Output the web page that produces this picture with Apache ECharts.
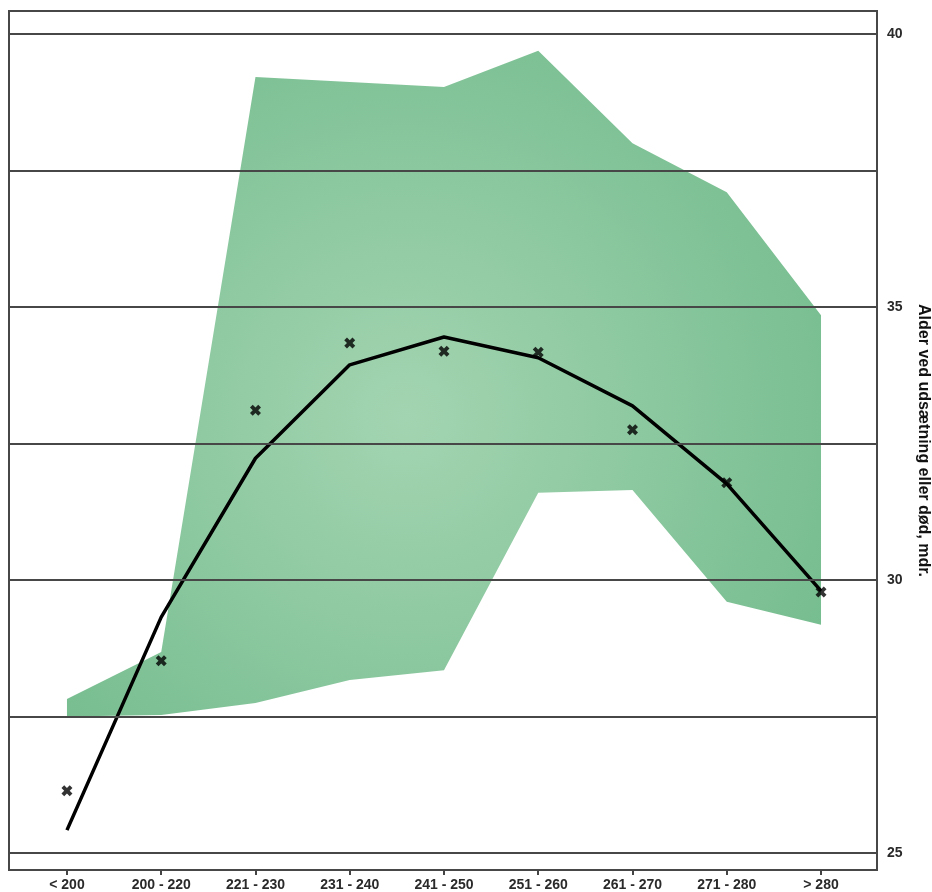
<!DOCTYPE html>
<html>
<head>
<meta charset="utf-8">
<script src="https://cdn.jsdelivr.net/npm/echarts@6/dist/echarts.min.js"></script>
<style>
html,body{margin:0;padding:0;background:#fff;}
#chart{width:932px;height:892px;}
</style>
</head>
<body>
<div id="chart"></div>
<script>
const categories = ['< 200','200 - 220','221 - 230','231 - 240','241 - 250','251 - 260','261 - 270','271 - 280','> 280'];
const upper    = [27.82, 28.68, 39.21, 39.12, 39.03, 39.69, 38.00, 37.10, 34.85];
const lower    = [27.50, 27.53, 27.75, 28.17, 28.35, 31.60, 31.65, 29.60, 29.18];
const fitted   = [25.42, 29.32, 32.23, 33.94, 34.45, 34.07, 33.19, 31.76, 29.80];
const observed = [26.14, 28.52, 33.11, 34.34, 34.19, 34.17, 32.75, 31.78, 29.78];
const gridValues = [25, 27.5, 30, 32.5, 35, 37.5, 40];
const yLabelValues = [25, 30, 35, 40];
const yName = 'Alder ved udsætning eller død, mdr.';

const idx = categories.map((c, i) => i);
const chart = echarts.init(document.getElementById('chart'), null, {renderer: 'canvas'});
const xMark = 'path://M0,2.5 L2.5,0 L5,2.5 L7.5,0 L10,2.5 L7.5,5 L10,7.5 L7.5,10 L5,7.5 L2.5,10 L0,7.5 L2.5,5 Z';

chart.setOption({
  animation: false,
  backgroundColor: '#fff',
  grid: {left: 9, right: 55, top: 11, bottom: 22, outerBoundsMode: 'none', containLabel: false,
    show: true, borderColor: '#474747', borderWidth: 2, backgroundColor: 'transparent'},
  xAxis: {
    type: 'value', min: -0.615, max: 8.594,
    axisLine: {show: false},
    splitLine: {show: false},
    axisTick: {show: true, customValues: idx, length: 5, lineStyle: {color: '#444', width: 2}},
    axisLabel: {customValues: idx, formatter: v => categories[Math.round(v)], margin: 8,
      fontFamily: 'Liberation Sans, Arial, sans-serif', fontWeight: 'bold', fontSize: 14, color: '#2a2a2a'}
  },
  yAxis: {
    type: 'value', position: 'right', min: 24.69, max: 40.42,
    axisLine: {show: false},
    splitLine: {show: false},
    axisTick: {show: true, customValues: yLabelValues, length: 8, lineStyle: {color: '#444', width: 2}},
    axisLabel: {customValues: yLabelValues, margin: 10,
      fontFamily: 'Liberation Sans, Arial, sans-serif', fontWeight: 'bold', fontSize: 14, color: '#2a2a2a'},
    name: yName, nameLocation: 'middle', nameRotate: -90, nameGap: 38,
    nameTextStyle: {fontFamily: 'Liberation Sans, Arial, sans-serif', fontWeight: 'bold', fontSize: 16, color: '#111'}
  },
  series: [
    {
      name: 'band', type: 'custom', silent: true, z: 1,
      data: idx.map(i => [i, lower[i], upper[i]]),
      encode: {x: 0, y: [1, 2]},
      renderItem: function (params, api) {
        if (params.dataIndex !== 0) return null;
        const pts = [];
        idx.forEach(i => pts.push(api.coord([i, upper[i]])));
        idx.slice().reverse().forEach(i => pts.push(api.coord([i, lower[i]])));
        return {
          type: 'polygon',
          shape: {points: pts},
          style: {fill: {type: 'radial', x: 0.45, y: 0.55, r: 0.7,
            colorStops: [{offset: 0, color: '#a3d4b1'}, {offset: 1, color: '#76bd8f'}]}, stroke: null}
        };
      }
    },
    {
      name: 'grid', type: 'line', data: [], silent: true, z: 2,
      markLine: {silent: true, symbol: 'none', label: {show: false},
        lineStyle: {type: 'solid', color: '#474747', width: 2},
        data: gridValues.map(v => ({yAxis: v}))}
    },
    {
      name: 'fitted', type: 'line', symbol: 'none', z: 3,
      data: idx.map(i => [i, fitted[i]]),
      lineStyle: {color: '#000', width: 3.5}
    },
    {
      name: 'observed', type: 'scatter', symbol: xMark, symbolSize: 11, z: 4,
      data: idx.map(i => [i, observed[i]]),
      itemStyle: {color: '#000'}
    }
  ]
});
</script>
</body>
</html>
